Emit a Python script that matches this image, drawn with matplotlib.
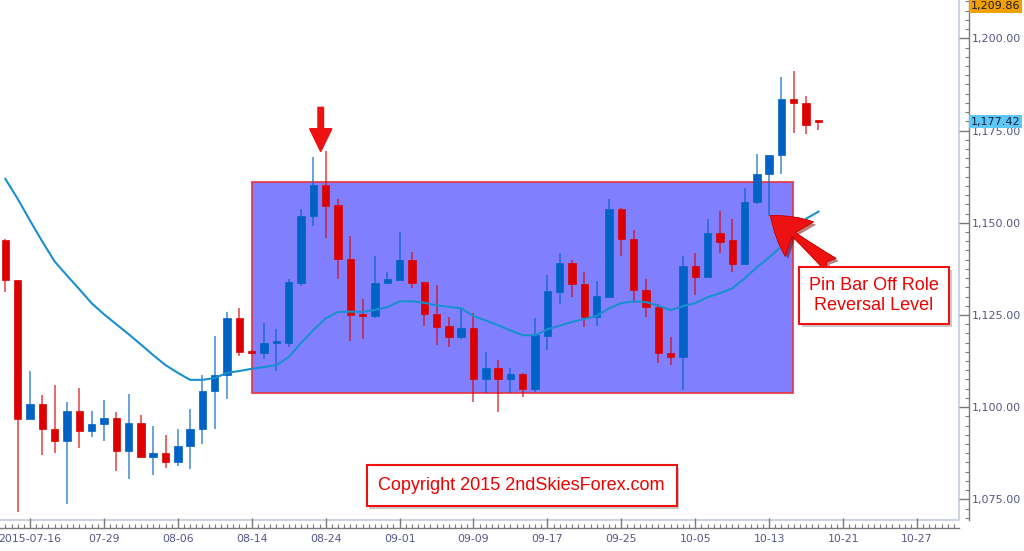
import matplotlib
matplotlib.use("Agg")
import matplotlib.pyplot as plt
import matplotlib.patheffects as pe
from matplotlib.patches import Rectangle, FancyArrow
from matplotlib.ticker import FixedLocator, MultipleLocator, FuncFormatter

plt.rcParams["font.family"] = ["Liberation Sans", "DejaVu Sans"]

# daily candles (one per bar)
opens = [1145.2, 1134.4, 1096.9, 1100.9, 1094.2, 1090.7, 1099.0, 1093.6, 1095.5, 1097.1,
         1088.2, 1095.8, 1086.6, 1087.7, 1085.0, 1089.6, 1094.2, 1104.4, 1108.7, 1124.1,
         1115.2, 1114.7, 1117.4, 1117.4, 1133.6, 1151.7, 1160.3, 1154.9, 1140.3, 1125.2,
         1124.7, 1133.6, 1134.4, 1140.0, 1133.9, 1125.2, 1121.9, 1119.0, 1121.4, 1107.7,
         1110.6, 1107.7, 1109.0, 1105.0, 1119.3, 1131.2, 1139.0, 1133.3, 1124.4, 1129.8,
         1153.8, 1145.7, 1131.7, 1127.1, 1114.7, 1113.6, 1138.2, 1135.2, 1147.1, 1145.2,
         1138.7, 1155.5, 1163.3, 1168.4, 1183.5, 1182.4, 1177.9]
highs = [1145.5, 1134.4, 1109.8, 1103.3, 1106.0, 1101.5, 1105.2, 1099.0, 1102.0, 1098.8,
         1103.6, 1098.0, 1095.0, 1092.5, 1094.2, 1099.6, 1108.7, 1119.3, 1125.8, 1126.8,
         1115.4, 1122.8, 1121.2, 1134.7, 1153.8, 1167.9, 1169.5, 1156.5, 1146.3, 1129.3,
         1140.9, 1136.6, 1147.6, 1142.2, 1133.9, 1133.0, 1124.4, 1126.6, 1125.5, 1115.0,
         1112.8, 1110.6, 1109.3, 1124.1, 1135.7, 1141.7, 1139.8, 1136.6, 1134.1, 1156.5,
         1154.0, 1147.9, 1134.7, 1127.9, 1119.0, 1140.9, 1141.7, 1150.9, 1153.3, 1150.9,
         1159.5, 1168.7, 1168.4, 1189.5, 1191.1, 1184.3, 1177.9]
lows = [1131.2, 1071.6, 1096.9, 1087.1, 1087.7, 1073.7, 1089.0, 1092.0, 1090.7, 1082.8,
        1080.4, 1086.3, 1081.5, 1083.4, 1084.0, 1083.1, 1089.9, 1094.2, 1102.3, 1113.9,
        1114.4, 1113.1, 1109.8, 1116.3, 1132.8, 1149.0, 1146.0, 1134.7, 1117.9, 1118.5,
        1124.1, 1133.3, 1134.1, 1132.2, 1122.0, 1116.8, 1116.3, 1118.5, 1101.5, 1103.9,
        1098.8, 1103.9, 1102.8, 1104.2, 1115.5, 1127.9, 1129.8, 1121.7, 1122.0, 1129.8,
        1140.9, 1128.2, 1124.4, 1112.0, 1111.4, 1104.7, 1130.3, 1135.2, 1141.7, 1136.6,
        1138.7, 1155.0, 1151.9, 1163.3, 1174.4, 1174.1, 1175.2]
closes = [1134.4, 1096.9, 1100.9, 1094.2, 1090.7, 1099.0, 1093.6, 1095.5, 1097.1, 1088.2,
          1095.8, 1086.6, 1087.7, 1085.0, 1089.6, 1094.2, 1104.4, 1108.7, 1124.1, 1115.0,
          1114.6, 1117.4, 1118.0, 1133.9, 1151.9, 1160.3, 1154.6, 1140.3, 1124.9, 1124.6,
          1133.6, 1134.7, 1140.0, 1133.6, 1125.2, 1121.7, 1119.0, 1121.4, 1107.7, 1110.6,
          1107.7, 1109.0, 1105.0, 1119.5, 1131.4, 1139.0, 1133.3, 1124.4, 1130.1, 1153.8,
          1145.5, 1131.7, 1127.1, 1114.7, 1113.6, 1138.2, 1135.2, 1147.1, 1144.9, 1138.7,
          1155.5, 1163.3, 1168.4, 1183.5, 1182.4, 1176.5, 1177.42]

# moving average line
ma = [1161.9, 1156.5, 1150.6, 1144.9, 1139.5, 1135.7, 1132.0, 1128.2, 1125.2, 1122.5,
      1119.8, 1117.0, 1114.1, 1111.4, 1109.3, 1107.4, 1107.4, 1107.9, 1109.3, 1109.8,
      1110.4, 1110.9, 1111.4, 1113.6, 1117.4, 1120.9, 1124.1, 1125.8, 1125.9, 1125.8,
      1126.4, 1127.1, 1128.7, 1128.7, 1128.3, 1127.6, 1127.2, 1126.8, 1124.7, 1123.5,
      1122.2, 1120.8, 1119.5, 1119.5, 1121.1, 1122.1, 1123.1, 1123.9, 1124.7, 1126.8,
      1128.2, 1128.7, 1128.5, 1127.5, 1126.3, 1127.4, 1128.2, 1129.8, 1130.9, 1132.2,
      1134.9, 1137.9, 1140.6, 1143.6, 1147.9, 1151.1, 1153.0]

date_ticks = [2, 8, 14, 20, 26, 32, 38, 44, 50, 56, 62, 68, 74]
date_labels = ["2015-07-16", "07-29", "08-06", "08-14", "08-24", "09-01", "09-09",
               "09-17", "09-25", "10-05", "10-13", "10-21", "10-27"]

# range box (bar index / price)
box_x = [20.0, 63.9]
box_y = [1103.9, 1161.1]

last_price = 1177.42
top_price = 1209.86

RED = "#dd0000"
BLUE = "#0062c4"
LABEL = "#55558a"
AXIS = "#7a7a7a"
TICKFONT = "DejaVu Sans"

fig = plt.figure(figsize=(10.24, 5.51), dpi=100)
ax = fig.add_axes([0, 31 / 551, 959 / 1024, 520 / 551])

n = len(opens)
xs = list(range(n))
up = [c >= o for o, c in zip(opens, closes)]
colors = [BLUE if u else RED for u in up]

ax.add_patch(Rectangle((box_x[0], box_y[0]), box_x[1] - box_x[0], box_y[1] - box_y[0],
                       facecolor="#8080ff", edgecolor="#e8343c", lw=1.2, zorder=1))

ax.vlines(xs, lows, highs, colors=colors, lw=1.1, alpha=0.75, zorder=2)
bottoms = [min(o, c) for o, c in zip(opens, closes)]
heights = [abs(c - o) for o, c in zip(opens, closes)]
ax.bar(xs, heights, bottom=bottoms, width=0.6, color=colors, edgecolor=colors,
       lw=0.5, zorder=3)

ax.plot(xs, ma, color="#1a8fd0", lw=1.5, zorder=4)

# down arrow over the high
ax.add_patch(FancyArrow(25.6, 1181.3, 0, -12.0, width=0.45, head_width=1.8,
                        head_length=6.2, length_includes_head=True,
                        color="#ee1111", zorder=5))

# arrow to the pin bar
ax.annotate("", xy=(62.1, 1152.0), xytext=(67.0, 1138.6),
            arrowprops=dict(arrowstyle="fancy,head_length=1.35,head_width=1.6,tail_width=0.6",
                            fc="#ee1111", ec="#cc0000", lw=0.5, mutation_scale=20,
                            shrinkA=0, shrinkB=0,
                            path_effects=[pe.withSimplePatchShadow(offset=(2, -2),
                                                                   shadow_rgbFace="#700000",
                                                                   alpha=0.5),
                                          pe.Normal()]),
            zorder=5)

shadow = [pe.withSimplePatchShadow(offset=(2, -2), shadow_rgbFace="#999999", alpha=0.5)]

t1 = ax.text(70.5, 1130.3, "Pin Bar Off Role\nReversal Level", color="#ee0000",
             fontsize=13, ha="center", va="center", linespacing=1.25, zorder=6,
             bbox=dict(boxstyle="square,pad=0.55", fc="white", ec="#ee1111", lw=1.5))
t1.get_bbox_patch().set_path_effects(shadow)

t2 = ax.text(41.9, 1078.7, "Copyright 2015 2ndSkiesForex.com", color="#ee0000",
             fontsize=13, ha="center", va="center", zorder=6,
             bbox=dict(boxstyle="square,pad=0.65", fc="white", ec="#ee1111", lw=1.5))
t2.get_bbox_patch().set_path_effects(shadow)

ax.set_xlim(-0.435, 77.41)
ax.set_ylim(1069.4, 1210.4)

# axes styling
for side in ["left", "top"]:
    ax.spines[side].set_visible(False)
ax.spines["right"].set_position(("outward", 7.2))
ax.spines["bottom"].set_position(("outward", 5.8))
for side in ["right", "bottom"]:
    ax.spines[side].set_color(AXIS)
    ax.spines[side].set_linewidth(1.0)
ax.plot([0, 1, 1], [0, 0, 1], transform=ax.transAxes, color="#cdd5e0", lw=1.5,
        clip_on=False, zorder=0)

ax.yaxis.set_ticks_position("right")
ax.yaxis.set_major_locator(MultipleLocator(25))
ax.yaxis.set_minor_locator(MultipleLocator(2.5))
ax.yaxis.set_major_formatter(FuncFormatter(lambda v, p: f"{v:,.2f}"))
ax.xaxis.set_major_locator(FixedLocator(date_ticks))
ax.xaxis.set_minor_locator(MultipleLocator(0.5))
ax.set_xticklabels(date_labels)

ax.tick_params(which="major", direction="in", length=7.2, color=AXIS, width=1.0,
               labelsize=8, labelcolor=LABEL)
ax.tick_params(axis="x", labelsize=7.8)
ax.tick_params(which="minor", direction="in", length=3.0, color=AXIS, width=0.8)
ax.tick_params(axis="y", pad=2)
ax.tick_params(axis="x", pad=4)
for lab in ax.get_xticklabels() + ax.get_yticklabels():
    lab.set_family(TICKFONT)
# keep the first date fully on the canvas
ax.get_xticklabels()[0].set_x(2.1)

# price flags on the right axis
for price, bg, dy in [(last_price, "#5cc8f8", 0), (top_price, "#f0a000", -4)]:
    ax.annotate(f"{price:,.2f}", xy=(1, price), xycoords=("axes fraction", "data"),
                xytext=(12, dy), textcoords="offset pixels", va="center", ha="left",
                fontsize=8, family=TICKFONT, color="#1a1a3a", annotation_clip=False,
                zorder=7, bbox=dict(boxstyle="square,pad=0.15", fc=bg, ec="none"))

fig.savefig("out.png", dpi=100)
